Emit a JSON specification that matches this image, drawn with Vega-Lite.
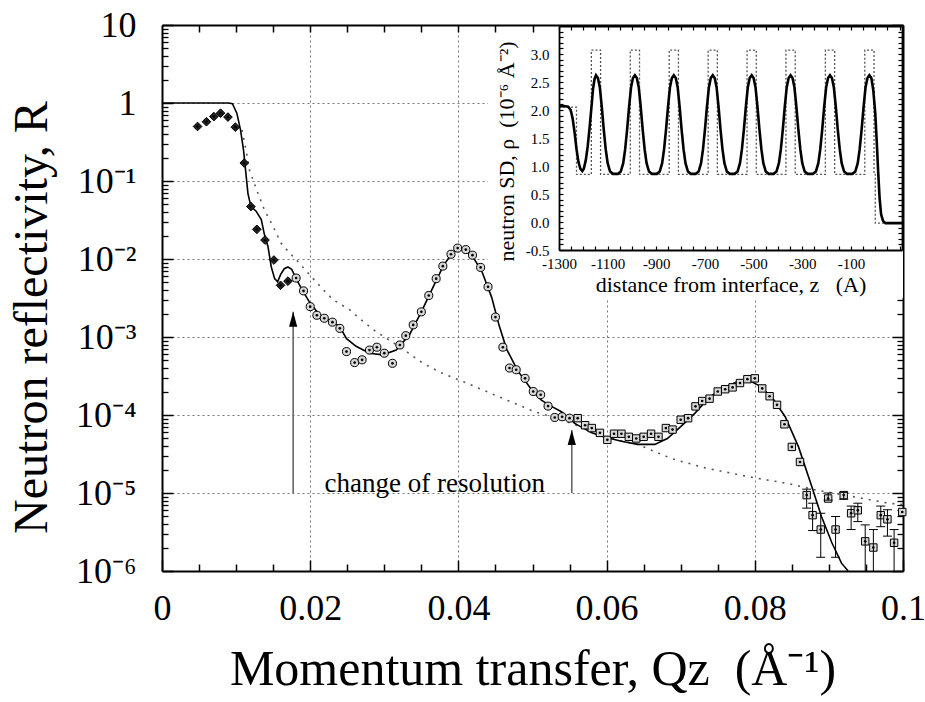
{
  "$schema": "https://vega.github.io/schema/vega-lite/v6.json",
  "width": 741,
  "height": 546,
  "autosize": "none",
  "padding": {"left": 162, "top": 25, "right": 22, "bottom": 131},
  "background": "white",
  "config": {
    "view": {"stroke": null},
    "font": "Liberation Serif",
    "axis": {
      "labelFont": "Liberation Serif",
      "titleFont": "Liberation Serif",
      "labelColor": "black",
      "titleColor": "black",
      "titleFontWeight": "normal",
      "domainColor": "black",
      "tickColor": "black",
      "labelFlush": false,
      "labelOverlap": false,
      "labelBound": false
    }
  },
  "datasets": {
    "box": [{"Q": 0.044, "Q2": 0.1, "R": 0.00316, "R2": 10}],
    "refl": [
      {"Q": 0.0048, "R": 0.50, "segment": "A"},
      {"Q": 0.0060, "R": 0.575, "segment": "A"},
      {"Q": 0.0070, "R": 0.67, "segment": "A"},
      {"Q": 0.0079, "R": 0.74, "segment": "A"},
      {"Q": 0.0089, "R": 0.66, "segment": "A"},
      {"Q": 0.0099, "R": 0.49, "segment": "A"},
      {"Q": 0.0111, "R": 0.17, "segment": "A"},
      {"Q": 0.0120, "R": 0.047, "segment": "A"},
      {"Q": 0.0128, "R": 0.024, "segment": "A"},
      {"Q": 0.0139, "R": 0.0175, "segment": "A"},
      {"Q": 0.0151, "R": 0.0097, "segment": "A"},
      {"Q": 0.0160, "R": 0.0046, "segment": "A"},
      {"Q": 0.0170, "R": 0.0052, "segment": "A"},
      {"Q": 0.0181, "R": 0.0057, "segment": "B"},
      {"Q": 0.0191, "R": 0.0039, "segment": "B"},
      {"Q": 0.0200, "R": 0.00245, "segment": "B"},
      {"Q": 0.0209, "R": 0.0019, "segment": "B"},
      {"Q": 0.0219, "R": 0.00174, "segment": "B"},
      {"Q": 0.0230, "R": 0.00155, "segment": "B"},
      {"Q": 0.0240, "R": 0.00129, "segment": "B"},
      {"Q": 0.0249, "R": 0.00065, "segment": "B"},
      {"Q": 0.0260, "R": 0.00047, "segment": "B"},
      {"Q": 0.0270, "R": 0.00051, "segment": "B"},
      {"Q": 0.0280, "R": 0.00068, "segment": "B"},
      {"Q": 0.0290, "R": 0.00074, "segment": "B"},
      {"Q": 0.0300, "R": 0.00062, "segment": "B"},
      {"Q": 0.0311, "R": 0.00046, "segment": "B"},
      {"Q": 0.0321, "R": 0.00079, "segment": "B"},
      {"Q": 0.0329, "R": 0.00104, "segment": "B"},
      {"Q": 0.0339, "R": 0.00143, "segment": "B"},
      {"Q": 0.0350, "R": 0.0021, "segment": "B"},
      {"Q": 0.0360, "R": 0.0034, "segment": "B"},
      {"Q": 0.0370, "R": 0.0056, "segment": "B"},
      {"Q": 0.0379, "R": 0.0081, "segment": "B"},
      {"Q": 0.0390, "R": 0.0115, "segment": "B"},
      {"Q": 0.0399, "R": 0.0138, "segment": "B"},
      {"Q": 0.0410, "R": 0.0132, "segment": "B"},
      {"Q": 0.0419, "R": 0.0112, "segment": "B"},
      {"Q": 0.0430, "R": 0.0078, "segment": "B"},
      {"Q": 0.0440, "R": 0.0044, "segment": "B"},
      {"Q": 0.0450, "R": 0.0018, "segment": "B"},
      {"Q": 0.0460, "R": 0.00074, "segment": "B"},
      {"Q": 0.0469, "R": 0.00040, "segment": "B"},
      {"Q": 0.0478, "R": 0.00038, "segment": "B"},
      {"Q": 0.0490, "R": 0.000295, "segment": "B"},
      {"Q": 0.0501, "R": 0.00020, "segment": "B"},
      {"Q": 0.0511, "R": 0.000182, "segment": "B"},
      {"Q": 0.0521, "R": 0.00013, "segment": "B"},
      {"Q": 0.0530, "R": 0.000093, "segment": "B"},
      {"Q": 0.0540, "R": 0.000095, "segment": "B"},
      {"Q": 0.0550, "R": 0.000091, "segment": "B"},
      {"Q": 0.0561, "R": 0.000091, "segment": "C"},
      {"Q": 0.0571, "R": 0.000074, "segment": "C"},
      {"Q": 0.0580, "R": 0.000068, "segment": "C"},
      {"Q": 0.0591, "R": 0.000059, "segment": "C"},
      {"Q": 0.0601, "R": 0.000048, "segment": "C"},
      {"Q": 0.0610, "R": 0.0000575, "segment": "C"},
      {"Q": 0.0620, "R": 0.0000575, "segment": "C"},
      {"Q": 0.0630, "R": 0.0000525, "segment": "C"},
      {"Q": 0.0640, "R": 0.000050, "segment": "C"},
      {"Q": 0.0650, "R": 0.0000525, "segment": "C"},
      {"Q": 0.0660, "R": 0.0000575, "segment": "C"},
      {"Q": 0.0670, "R": 0.0000525, "segment": "C"},
      {"Q": 0.0680, "R": 0.000068, "segment": "C"},
      {"Q": 0.0689, "R": 0.000065, "segment": "C"},
      {"Q": 0.0700, "R": 0.000087, "segment": "C"},
      {"Q": 0.0710, "R": 0.000091, "segment": "C"},
      {"Q": 0.0720, "R": 0.000129, "segment": "C"},
      {"Q": 0.0729, "R": 0.000151, "segment": "C"},
      {"Q": 0.0739, "R": 0.000162, "segment": "C"},
      {"Q": 0.0750, "R": 0.00020, "segment": "C"},
      {"Q": 0.0760, "R": 0.000214, "segment": "C"},
      {"Q": 0.0770, "R": 0.000226, "segment": "C"},
      {"Q": 0.0780, "R": 0.000257, "segment": "C"},
      {"Q": 0.0790, "R": 0.000288, "segment": "C"},
      {"Q": 0.0800, "R": 0.000295, "segment": "C"},
      {"Q": 0.0810, "R": 0.000219, "segment": "C"},
      {"Q": 0.0820, "R": 0.000174, "segment": "C"},
      {"Q": 0.0830, "R": 0.000135, "segment": "C"},
      {"Q": 0.0840, "R": 0.000076, "segment": "C"},
      {"Q": 0.0850, "R": 0.000039, "segment": "C"},
      {"Q": 0.0861, "R": 0.000025, "segment": "C"},
      {"Q": 0.0870, "R": 0.0000094, "lo": 0.0000064, "hi": 0.0000112, "segment": "C"},
      {"Q": 0.0878, "R": 0.0000052, "lo": 0.0000033, "hi": 0.0000074, "segment": "C"},
      {"Q": 0.0889, "R": 0.0000034, "lo": 0.0000015, "hi": 0.0000055, "segment": "C"},
      {"Q": 0.0899, "R": 0.0000085, "lo": 0.0000081, "hi": 0.0000100, "segment": "C"},
      {"Q": 0.0909, "R": 0.0000034, "lo": 0.0000015, "hi": 0.0000050, "segment": "C"},
      {"Q": 0.0920, "R": 0.0000094, "lo": 0.0000083, "hi": 0.0000102, "segment": "C"},
      {"Q": 0.0930, "R": 0.0000055, "lo": 0.0000034, "hi": 0.0000068, "segment": "C"},
      {"Q": 0.0939, "R": 0.0000060, "lo": 0.0000043, "hi": 0.0000074, "segment": "C"},
      {"Q": 0.0949, "R": 0.0000024, "lo": 0.0000010, "hi": 0.0000039, "segment": "C"},
      {"Q": 0.0960, "R": 0.0000020, "lo": 0.0000010, "hi": 0.0000034, "segment": "C"},
      {"Q": 0.0970, "R": 0.0000052, "lo": 0.0000037, "hi": 0.0000068, "segment": "C"},
      {"Q": 0.0979, "R": 0.0000046, "lo": 0.0000028, "hi": 0.0000061, "segment": "C"},
      {"Q": 0.0988, "R": 0.0000023, "lo": 0.0000010, "hi": 0.0000034, "segment": "C"},
      {"Q": 0.0999, "R": 0.0000057, "segment": "C"}
    ],
    "fit": [
      {"Q": 0.0, "R": 1.0},
      {"Q": 0.0090, "R": 1.0},
      {"Q": 0.0095, "R": 0.98},
      {"Q": 0.0101, "R": 0.74},
      {"Q": 0.0106, "R": 0.45},
      {"Q": 0.0110, "R": 0.25},
      {"Q": 0.01137, "R": 0.113},
      {"Q": 0.0116, "R": 0.069},
      {"Q": 0.0120, "R": 0.047},
      {"Q": 0.0127, "R": 0.041},
      {"Q": 0.0134, "R": 0.032},
      {"Q": 0.0138, "R": 0.021},
      {"Q": 0.0143, "R": 0.0145},
      {"Q": 0.01475, "R": 0.0079},
      {"Q": 0.0152, "R": 0.0056},
      {"Q": 0.0156, "R": 0.0051},
      {"Q": 0.0160, "R": 0.0063},
      {"Q": 0.0165, "R": 0.0075},
      {"Q": 0.0170, "R": 0.0079},
      {"Q": 0.0175, "R": 0.0074},
      {"Q": 0.0181, "R": 0.0056},
      {"Q": 0.0188, "R": 0.0042},
      {"Q": 0.0199, "R": 0.0028},
      {"Q": 0.0213, "R": 0.0019},
      {"Q": 0.0226, "R": 0.00166},
      {"Q": 0.0240, "R": 0.00135},
      {"Q": 0.0249, "R": 0.00095},
      {"Q": 0.0262, "R": 0.00076},
      {"Q": 0.0280, "R": 0.00062},
      {"Q": 0.0298, "R": 0.00059},
      {"Q": 0.0316, "R": 0.00068},
      {"Q": 0.0334, "R": 0.00107},
      {"Q": 0.0350, "R": 0.0021},
      {"Q": 0.0365, "R": 0.0042},
      {"Q": 0.0380, "R": 0.0083},
      {"Q": 0.0392, "R": 0.0121},
      {"Q": 0.0400, "R": 0.0135},
      {"Q": 0.0408, "R": 0.0132},
      {"Q": 0.0420, "R": 0.0105},
      {"Q": 0.0432, "R": 0.0068},
      {"Q": 0.0445, "R": 0.0032},
      {"Q": 0.0455, "R": 0.0014},
      {"Q": 0.0465, "R": 0.00070},
      {"Q": 0.0480, "R": 0.00037},
      {"Q": 0.0499, "R": 0.00021},
      {"Q": 0.0512, "R": 0.000155},
      {"Q": 0.0525, "R": 0.00013},
      {"Q": 0.0539, "R": 0.00011},
      {"Q": 0.0557, "R": 0.000078},
      {"Q": 0.0580, "R": 0.000059},
      {"Q": 0.0598, "R": 0.000052},
      {"Q": 0.0620, "R": 0.000046},
      {"Q": 0.0642, "R": 0.000042},
      {"Q": 0.0665, "R": 0.000042},
      {"Q": 0.0682, "R": 0.000050},
      {"Q": 0.0700, "R": 0.000071},
      {"Q": 0.0719, "R": 0.000105},
      {"Q": 0.0737, "R": 0.000162},
      {"Q": 0.0755, "R": 0.000219},
      {"Q": 0.0778, "R": 0.00027},
      {"Q": 0.0791, "R": 0.000282},
      {"Q": 0.0805, "R": 0.00024},
      {"Q": 0.0823, "R": 0.00017},
      {"Q": 0.0841, "R": 0.000095},
      {"Q": 0.0859, "R": 0.000039},
      {"Q": 0.0877, "R": 0.000012},
      {"Q": 0.0890, "R": 0.0000050},
      {"Q": 0.0904, "R": 0.0000023},
      {"Q": 0.0917, "R": 0.00000126},
      {"Q": 0.0926, "R": 0.0000010}
    ],
    "dotted": [
      {"Q": 0.0108, "R": 0.45},
      {"Q": 0.01137, "R": 0.24},
      {"Q": 0.0118, "R": 0.138},
      {"Q": 0.0128, "R": 0.076},
      {"Q": 0.0138, "R": 0.043},
      {"Q": 0.0150, "R": 0.026},
      {"Q": 0.0161, "R": 0.0158},
      {"Q": 0.0171, "R": 0.0123},
      {"Q": 0.0181, "R": 0.0098},
      {"Q": 0.0204, "R": 0.0056},
      {"Q": 0.0217, "R": 0.0041},
      {"Q": 0.0231, "R": 0.0030},
      {"Q": 0.0253, "R": 0.00224},
      {"Q": 0.0269, "R": 0.00166},
      {"Q": 0.0289, "R": 0.00117},
      {"Q": 0.0307, "R": 0.00091},
      {"Q": 0.0330, "R": 0.00065},
      {"Q": 0.0352, "R": 0.00046},
      {"Q": 0.0379, "R": 0.00034},
      {"Q": 0.0411, "R": 0.000257},
      {"Q": 0.0453, "R": 0.000174},
      {"Q": 0.0503, "R": 0.00011},
      {"Q": 0.0530, "R": 0.000093},
      {"Q": 0.0553, "R": 0.000078},
      {"Q": 0.0598, "R": 0.000052},
      {"Q": 0.0642, "R": 0.000042},
      {"Q": 0.0688, "R": 0.0000275},
      {"Q": 0.0733, "R": 0.000021},
      {"Q": 0.0791, "R": 0.0000162},
      {"Q": 0.0845, "R": 0.0000132},
      {"Q": 0.0881, "R": 0.000011},
      {"Q": 0.0935, "R": 0.0000089},
      {"Q": 0.0980, "R": 0.0000074},
      {"Q": 0.1000, "R": 0.0000071}
    ],
    "arrows": [
      {"Q": 0.0177, "R0": 0.00001, "R1": 0.0021},
      {"Q": 0.0553, "R0": 0.00001, "R1": 0.000064}
    ],
    "notes": [
      {"Q": 0.0368, "R": 0.0000102, "label": "change of resolution"}
    ],
    "profile": [
      {"z": -1300, "rho": 2.07}, {"z": -1280, "rho": 2.07}, {"z": -1262, "rho": 2.06}, {"z": -1252, "rho": 2.0},
      {"z": -1244, "rho": 1.85}, {"z": -1236, "rho": 1.6}, {"z": -1228, "rho": 1.3}, {"z": -1220, "rho": 1.07},
      {"z": -1212, "rho": 0.95}, {"z": -1204, "rho": 0.91}, {"z": -1198, "rho": 0.95}, {"z": -1190, "rho": 1.1},
      {"z": -1182, "rho": 1.35}, {"z": -1174, "rho": 1.7}, {"z": -1166, "rho": 2.08}, {"z": -1160, "rho": 2.38},
      {"z": -1154, "rho": 2.55}, {"z": -1148, "rho": 2.62}, {"z": -1140, "rho": 2.57}, {"z": -1132, "rho": 2.4},
      {"z": -1124, "rho": 2.05}, {"z": -1116, "rho": 1.65}, {"z": -1108, "rho": 1.3}, {"z": -1100, "rho": 1.05},
      {"z": -1090, "rho": 0.9}, {"z": -1078, "rho": 0.86},
      {"z": -1058, "rho": 0.86}, {"z": -1046, "rho": 0.9}, {"z": -1036, "rho": 1.05}, {"z": -1028, "rho": 1.3},
      {"z": -1020, "rho": 1.65}, {"z": -1012, "rho": 2.05}, {"z": -1004, "rho": 2.4}, {"z": -996, "rho": 2.57},
      {"z": -988, "rho": 2.62}, {"z": -980, "rho": 2.57}, {"z": -972, "rho": 2.4}, {"z": -964, "rho": 2.05},
      {"z": -956, "rho": 1.65}, {"z": -948, "rho": 1.3}, {"z": -940, "rho": 1.05}, {"z": -930, "rho": 0.9},
      {"z": -918, "rho": 0.86},
      {"z": -898, "rho": 0.86}, {"z": -886, "rho": 0.9}, {"z": -876, "rho": 1.05}, {"z": -868, "rho": 1.3},
      {"z": -860, "rho": 1.65}, {"z": -852, "rho": 2.05}, {"z": -844, "rho": 2.4}, {"z": -836, "rho": 2.57},
      {"z": -828, "rho": 2.62}, {"z": -820, "rho": 2.57}, {"z": -812, "rho": 2.4}, {"z": -804, "rho": 2.05},
      {"z": -796, "rho": 1.65}, {"z": -788, "rho": 1.3}, {"z": -780, "rho": 1.05}, {"z": -770, "rho": 0.9},
      {"z": -758, "rho": 0.86},
      {"z": -738, "rho": 0.86}, {"z": -726, "rho": 0.9}, {"z": -716, "rho": 1.05}, {"z": -708, "rho": 1.3},
      {"z": -700, "rho": 1.65}, {"z": -692, "rho": 2.05}, {"z": -684, "rho": 2.4}, {"z": -676, "rho": 2.57},
      {"z": -668, "rho": 2.62}, {"z": -660, "rho": 2.57}, {"z": -652, "rho": 2.4}, {"z": -644, "rho": 2.05},
      {"z": -636, "rho": 1.65}, {"z": -628, "rho": 1.3}, {"z": -620, "rho": 1.05}, {"z": -610, "rho": 0.9},
      {"z": -598, "rho": 0.86},
      {"z": -578, "rho": 0.86}, {"z": -566, "rho": 0.9}, {"z": -556, "rho": 1.05}, {"z": -548, "rho": 1.3},
      {"z": -540, "rho": 1.65}, {"z": -532, "rho": 2.05}, {"z": -524, "rho": 2.4}, {"z": -516, "rho": 2.57},
      {"z": -508, "rho": 2.62}, {"z": -500, "rho": 2.57}, {"z": -492, "rho": 2.4}, {"z": -484, "rho": 2.05},
      {"z": -476, "rho": 1.65}, {"z": -468, "rho": 1.3}, {"z": -460, "rho": 1.05}, {"z": -450, "rho": 0.9},
      {"z": -438, "rho": 0.86},
      {"z": -418, "rho": 0.86}, {"z": -406, "rho": 0.9}, {"z": -396, "rho": 1.05}, {"z": -388, "rho": 1.3},
      {"z": -380, "rho": 1.65}, {"z": -372, "rho": 2.05}, {"z": -364, "rho": 2.4}, {"z": -356, "rho": 2.57},
      {"z": -348, "rho": 2.62}, {"z": -340, "rho": 2.57}, {"z": -332, "rho": 2.4}, {"z": -324, "rho": 2.05},
      {"z": -316, "rho": 1.65}, {"z": -308, "rho": 1.3}, {"z": -300, "rho": 1.05}, {"z": -290, "rho": 0.9},
      {"z": -278, "rho": 0.86},
      {"z": -256, "rho": 0.86}, {"z": -244, "rho": 0.9}, {"z": -234, "rho": 1.05}, {"z": -226, "rho": 1.3},
      {"z": -218, "rho": 1.65}, {"z": -210, "rho": 2.05}, {"z": -202, "rho": 2.4}, {"z": -194, "rho": 2.57},
      {"z": -186, "rho": 2.62}, {"z": -178, "rho": 2.57}, {"z": -170, "rho": 2.4}, {"z": -162, "rho": 2.05},
      {"z": -154, "rho": 1.65}, {"z": -146, "rho": 1.3}, {"z": -138, "rho": 1.05}, {"z": -128, "rho": 0.9},
      {"z": -116, "rho": 0.86},
      {"z": -94, "rho": 0.86}, {"z": -82, "rho": 0.9}, {"z": -72, "rho": 1.05}, {"z": -64, "rho": 1.3},
      {"z": -56, "rho": 1.65}, {"z": -48, "rho": 2.05}, {"z": -40, "rho": 2.4}, {"z": -32, "rho": 2.57},
      {"z": -24, "rho": 2.62}, {"z": -16, "rho": 2.57}, {"z": -8, "rho": 2.35}, {"z": 0, "rho": 1.95},
      {"z": 6, "rho": 1.45}, {"z": 12, "rho": 0.9}, {"z": 18, "rho": 0.42}, {"z": 24, "rho": 0.14},
      {"z": 32, "rho": 0.02}, {"z": 42, "rho": -0.02}, {"z": 110, "rho": -0.02}
    ],
    "boxmodel": [
      {"z": -1300, "rho": 2.05}, {"z": -1228, "rho": 0.85},
      {"z": -1167, "rho": 3.07}, {"z": -1129, "rho": 0.85},
      {"z": -1007, "rho": 3.07}, {"z": -969, "rho": 0.85},
      {"z": -847, "rho": 3.07}, {"z": -809, "rho": 0.85},
      {"z": -687, "rho": 3.07}, {"z": -649, "rho": 0.85},
      {"z": -527, "rho": 3.07}, {"z": -489, "rho": 0.85},
      {"z": -367, "rho": 3.07}, {"z": -329, "rho": 0.85},
      {"z": -205, "rho": 3.07}, {"z": -167, "rho": 0.85},
      {"z": -43, "rho": 3.07}, {"z": -5, "rho": 0.85},
      {"z": 0, "rho": -0.02}, {"z": 110, "rho": -0.02}
    ]
  },
  "layer": [
    {
      "layer": [
        {
          "data": {"name": "box"},
          "mark": {"type": "rect", "fill": "white"},
          "encoding": {
            "x": {"field": "Q", "type": "quantitative", "scale": {"domain": [0, 0.1], "nice": false, "zero": false},
              "axis": {"orient": "top", "values": [0.005, 0.01, 0.015, 0.02, 0.025, 0.03, 0.035, 0.04, 0.045, 0.05], "labels": false, "grid": false, "tickSize": -7, "tickWidth": 1.5, "domainWidth": 2, "title": null, "zindex": 1}},
            "x2": {"field": "Q2"},
            "y": {"field": "R", "type": "quantitative", "scale": {"type": "log", "domain": [0.000001, 10], "nice": false}, "axis": null},
            "y2": {"field": "R2"}
          }
        },
        {
          "data": {"name": "dotted"},
          "mark": {"type": "line", "color": "#555", "strokeWidth": 1.6, "strokeDash": [2, 6], "clip": true},
          "encoding": {
            "x": {"field": "Q", "type": "quantitative", "scale": {"domain": [0, 0.1], "nice": false, "zero": false},
              "axis": {"orient": "bottom", "values": [0.005, 0.01, 0.015, 0.025, 0.03, 0.035, 0.045, 0.05, 0.055, 0.065, 0.07, 0.075, 0.085, 0.09, 0.095], "labels": false, "grid": false, "domain": false, "tickSize": -7, "tickWidth": 1.5, "title": null}},
            "y": {"field": "R", "type": "quantitative", "scale": {"type": "log", "domain": [0.000001, 10], "nice": false},
              "axis": {"orient": "left", "values": [0.000002, 0.000003, 0.000004, 0.000005, 0.000006, 0.000007, 0.000008, 0.000009, 0.00002, 0.00003, 0.00004, 0.00005, 0.00006, 0.00007, 0.00008, 0.00009, 0.0002, 0.0003, 0.0004, 0.0005, 0.0006, 0.0007, 0.0008, 0.0009, 0.002, 0.003, 0.004, 0.005, 0.006, 0.007, 0.008, 0.009, 0.02, 0.03, 0.04, 0.05, 0.06, 0.07, 0.08, 0.09, 0.2, 0.3, 0.4, 0.5, 0.6, 0.7, 0.8, 0.9, 2, 3, 4, 5, 6, 7, 8, 9], "labels": false, "grid": false, "domain": false, "tickSize": -6, "tickWidth": 1.3, "title": null}}
          }
        },
        {
          "data": {"name": "fit"},
          "mark": {"type": "line", "color": "black", "strokeWidth": 1.6, "clip": true},
          "encoding": {
            "x": {"field": "Q", "type": "quantitative", "scale": {"domain": [0, 0.1], "nice": false, "zero": false},
              "axis": {"orient": "bottom", "values": [0, 0.02, 0.04, 0.06, 0.08, 0.1], "format": "~g", "grid": true, "gridDash": [2, 3], "gridColor": "#777", "gridWidth": 1, "tickSize": -11, "tickWidth": 1.5, "domainWidth": 2, "labelFontSize": 36, "labelPadding": 31, "title": "Momentum transfer, Qz\u00a0\u00a0(Å⁻¹)", "titleFontSize": 50, "titlePadding": 18}},
            "y": {"field": "R", "type": "quantitative", "scale": {"type": "log", "domain": [0.000001, 10], "nice": false},
              "axis": {"orient": "left", "values": [0.000001, 0.00001, 0.0001, 0.001, 0.01, 0.1, 1, 10], "labelExpr": "datum.value > 5 ? '10' : datum.value > 0.5 ? '1' : '10⁻' + ['', '¹', '²', '³', '⁴', '⁵', '⁶'][round(-log(datum.value) / LN10)]", "grid": true, "gridDash": [2, 3], "gridColor": "#777", "gridWidth": 1, "tickSize": -11, "tickWidth": 1.5, "domainWidth": 2, "labelFontSize": 36, "labelPadding": 37, "title": "Neutron reflectivity, R", "titleFontSize": 48, "titlePadding": 19, "titleY": 292}}
          }
        },
        {
          "data": {"name": "refl"},
          "mark": {"type": "point", "filled": true, "stroke": "black", "strokeWidth": 1, "opacity": 1},
          "encoding": {
            "x": {"field": "Q", "type": "quantitative", "scale": {"domain": [0, 0.1], "nice": false, "zero": false}, "axis": null},
            "y": {"field": "R", "type": "quantitative", "scale": {"type": "log", "domain": [0.000001, 10], "nice": false},
              "axis": {"orient": "right", "values": [0.000001, 0.00001, 0.0001, 0.001, 0.01, 0.1, 1, 10], "labels": false, "grid": false, "tickSize": -11, "tickWidth": 1.5, "domainWidth": 2, "title": null}},
            "shape": {"field": "segment", "type": "nominal", "scale": {"domain": ["A", "B", "C"], "range": ["diamond", "circle", "square"]}, "legend": null},
            "fill": {"field": "segment", "type": "nominal", "scale": {"domain": ["A", "B", "C"], "range": ["#222", "#d8d8d8", "#d8d8d8"]}, "legend": null},
            "size": {"field": "segment", "type": "nominal", "scale": {"domain": ["A", "B", "C"], "range": [75, 55, 48]}, "legend": null}
          }
        },
        {
          "data": {"name": "refl"},
          "mark": {"type": "circle", "size": 7, "color": "black", "opacity": 1},
          "encoding": {
            "x": {"field": "Q", "type": "quantitative", "scale": {"domain": [0, 0.1], "nice": false, "zero": false}, "axis": null},
            "y": {"field": "R", "type": "quantitative", "scale": {"type": "log", "domain": [0.000001, 10], "nice": false},
              "axis": {"orient": "right", "values": [0.000002, 0.000003, 0.000004, 0.000005, 0.000006, 0.000007, 0.000008, 0.000009, 0.00002, 0.00003, 0.00004, 0.00005, 0.00006, 0.00007, 0.00008, 0.00009, 0.0002, 0.0003, 0.0004, 0.0005, 0.0006, 0.0007, 0.0008, 0.0009, 0.002, 0.003, 0.004, 0.005, 0.006, 0.007, 0.008, 0.009, 0.02, 0.03, 0.04, 0.05, 0.06, 0.07, 0.08, 0.09, 0.2, 0.3, 0.4, 0.5, 0.6, 0.7, 0.8, 0.9, 2, 3, 4, 5, 6, 7, 8, 9], "labels": false, "grid": false, "domain": false, "tickSize": -6, "tickWidth": 1.3, "title": null}}
          }
        },
        {
          "data": {"name": "refl"},
          "transform": [{"filter": "isValid(datum.lo)"}],
          "mark": {"type": "rule", "color": "black", "strokeWidth": 1, "clip": true},
          "encoding": {
            "x": {"field": "Q", "type": "quantitative", "scale": {"domain": [0, 0.1], "nice": false, "zero": false}, "axis": null},
            "y": {"field": "lo", "type": "quantitative", "scale": {"type": "log", "domain": [0.000001, 10], "nice": false}, "axis": null},
            "y2": {"field": "hi"}
          }
        },
        {
          "data": {"name": "refl"},
          "transform": [{"filter": "isValid(datum.hi)"}],
          "mark": {"type": "tick", "orient": "horizontal", "size": 9, "thickness": 1, "color": "black", "opacity": 1},
          "encoding": {
            "x": {"field": "Q", "type": "quantitative", "scale": {"domain": [0, 0.1], "nice": false, "zero": false}, "axis": null},
            "y": {"field": "hi", "type": "quantitative", "scale": {"type": "log", "domain": [0.000001, 10], "nice": false}, "axis": null}
          }
        },
        {
          "data": {"name": "refl"},
          "transform": [{"filter": "isValid(datum.lo) && datum.lo > 0.0000011"}],
          "mark": {"type": "tick", "orient": "horizontal", "size": 9, "thickness": 1, "color": "black", "opacity": 1},
          "encoding": {
            "x": {"field": "Q", "type": "quantitative", "scale": {"domain": [0, 0.1], "nice": false, "zero": false}, "axis": null},
            "y": {"field": "lo", "type": "quantitative", "scale": {"type": "log", "domain": [0.000001, 10], "nice": false}, "axis": null}
          }
        },
        {
          "data": {"name": "arrows"},
          "mark": {"type": "rule", "color": "#666", "strokeWidth": 1.6},
          "encoding": {
            "x": {"field": "Q", "type": "quantitative", "scale": {"domain": [0, 0.1], "nice": false, "zero": false}, "axis": null},
            "y": {"field": "R0", "type": "quantitative", "scale": {"type": "log", "domain": [0.000001, 10], "nice": false}, "axis": null},
            "y2": {"field": "R1"}
          }
        },
        {
          "data": {"name": "arrows"},
          "mark": {"type": "point", "shape": "M0,0L-0.55,2L0.55,2Z", "size": 225, "filled": true, "color": "black", "opacity": 1},
          "encoding": {
            "x": {"field": "Q", "type": "quantitative", "scale": {"domain": [0, 0.1], "nice": false, "zero": false}, "axis": null},
            "y": {"field": "R1", "type": "quantitative", "scale": {"type": "log", "domain": [0.000001, 10], "nice": false}, "axis": null}
          }
        },
        {
          "data": {"name": "notes"},
          "mark": {"type": "text", "font": "Liberation Serif", "fontSize": 27, "align": "center", "baseline": "alphabetic", "color": "black"},
          "encoding": {
            "x": {"field": "Q", "type": "quantitative", "scale": {"domain": [0, 0.1], "nice": false, "zero": false}, "axis": null},
            "y": {"field": "R", "type": "quantitative", "scale": {"type": "log", "domain": [0.000001, 10], "nice": false}, "axis": null},
            "text": {"field": "label"}
          }
        }
      ],
      "resolve": {"axis": {"x": "independent", "y": "independent"}}
    },
    {
      "layer": [
        {
          "data": {"name": "boxmodel"},
          "mark": {"type": "line", "color": "#555", "strokeWidth": 1.3, "strokeDash": [2, 2], "interpolate": "step-after"},
          "encoding": {
            "x": {"field": "z", "type": "quantitative", "scale": {"domain": [-1300, 110], "range": [397, 740], "nice": false, "zero": false},
              "axis": {"orient": "top", "offset": -1, "values": [-1300, -1250, -1200, -1150, -1100, -1050, -1000, -950, -900, -850, -800, -750, -700, -650, -600, -550, -500, -450, -400, -350, -300, -250, -200, -150, -100, -50, 0, 50, 100], "labels": false, "grid": false, "tickSize": -4, "tickWidth": 1.2, "domainWidth": 1.8, "title": null, "zindex": 1}},
            "y": {"field": "rho", "type": "quantitative", "scale": {"domain": [-0.5, 3.5], "range": [225, 1], "nice": false, "zero": false},
              "axis": {"orient": "right", "offset": -1, "values": [-0.4, -0.3, -0.2, -0.1, 0, 0.1, 0.2, 0.3, 0.4, 0.5, 0.6, 0.7, 0.8, 0.9, 1, 1.1, 1.2, 1.3, 1.4, 1.5, 1.6, 1.7, 1.8, 1.9, 2, 2.1, 2.2, 2.3, 2.4, 2.5, 2.6, 2.7, 2.8, 2.9, 3, 3.1, 3.2, 3.3, 3.4], "labels": false, "grid": false, "tickSize": -4, "tickWidth": 1.2, "domainWidth": 1.8, "title": null, "zindex": 1}}
          }
        },
        {
          "data": {"name": "profile"},
          "mark": {"type": "line", "color": "black", "strokeWidth": 2.6},
          "encoding": {
            "x": {"field": "z", "type": "quantitative", "scale": {"domain": [-1300, 110], "range": [397, 740], "nice": false, "zero": false},
              "axis": {"orient": "bottom", "offset": -321, "values": [-1300, -1250, -1200, -1150, -1100, -1050, -1000, -950, -900, -850, -800, -750, -700, -650, -600, -550, -500, -450, -400, -350, -300, -250, -200, -150, -100, -50, 0, 50, 100], "labelExpr": "(datum.value + 1300) % 200 == 0 && datum.value < 0 ? '' + datum.value : ''", "grid": false, "tickSize": -4, "tickWidth": 1.2, "domainWidth": 1.8, "labelFontSize": 15, "labelPadding": 10, "title": "distance from interface, z\u00a0\u00a0\u00a0(A)", "titleFontSize": 22, "titlePadding": 3, "zindex": 1}},
            "y": {"field": "rho", "type": "quantitative", "scale": {"domain": [-0.5, 3.5], "range": [225, 1], "nice": false, "zero": false},
              "axis": {"orient": "left", "offset": -397, "values": [-0.5, -0.4, -0.3, -0.2, -0.1, 0, 0.1, 0.2, 0.3, 0.4, 0.5, 0.6, 0.7, 0.8, 0.9, 1, 1.1, 1.2, 1.3, 1.4, 1.5, 1.6, 1.7, 1.8, 1.9, 2, 2.1, 2.2, 2.3, 2.4, 2.5, 2.6, 2.7, 2.8, 2.9, 3, 3.1, 3.2, 3.3, 3.4], "labelExpr": "abs(datum.value * 2 - round(datum.value * 2)) < 0.01 && datum.value < 3.2 ? (datum.value < 0 ? '-' + format(-datum.value, '.1f') : format(datum.value, '.1f')) : ''", "grid": false, "tickSize": -4, "tickWidth": 1.2, "domainWidth": 1.8, "labelFontSize": 15, "labelPadding": 14, "title": "neutron SD, ρ\u00a0\u00a0(10⁻⁶ Å⁻²)", "titleFontSize": 22, "titlePadding": 7, "titleY": 126, "zindex": 1}}
          }
        }
      ],
      "resolve": {"axis": {"x": "independent", "y": "independent"}}
    }
  ],
  "resolve": {"scale": {"x": "independent", "y": "independent"}, "axis": {"x": "independent", "y": "independent"}}
}
